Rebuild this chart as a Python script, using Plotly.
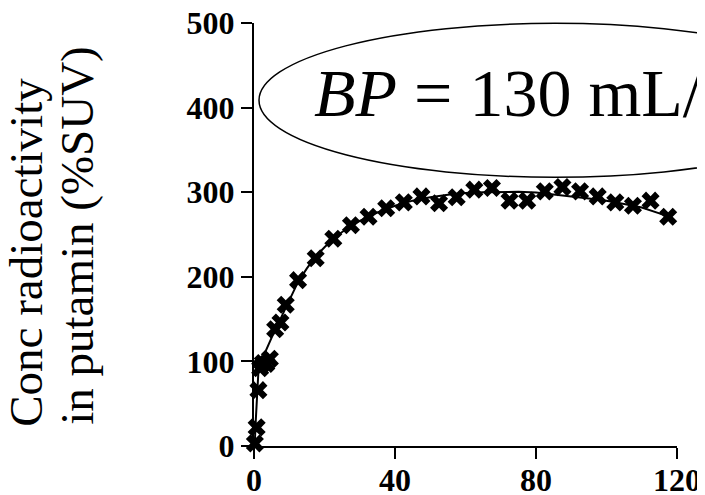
import plotly.graph_objects as go

# Measured data (time in min, concentration in %SUV)
time_min = [0.25, 0.75, 1.25, 1.75, 2.5, 3.5, 4.5, 6.0, 7.5, 9.0, 12.5, 17.5, 22.5,
            27.5, 32.5, 37.5, 42.5, 47.5, 52.5, 57.5, 62.5, 67.5, 72.5, 77.5,
            82.5, 87.5, 92.5, 97.5, 102.5, 107.5, 112.5, 117.5]
conc_suv = [3, 22, 66, 92, 98, 97, 103, 138, 146, 167, 196, 222, 245,
            261, 271, 281, 288, 295, 287, 294, 303, 305, 290, 290,
            301, 306, 301, 295, 288, 284, 290, 271]

# Fitted curve
fit_time = [0, 0.25, 0.5, 0.75, 1.0, 1.25, 1.5, 2, 3, 4, 5, 6, 7.5, 9, 10.5, 12.5,
            15, 17.5, 20, 22.5, 25, 27.5, 30, 35, 40, 45, 50, 55, 60, 65, 70, 75,
            80, 85, 90, 95, 100, 105, 110, 115, 117.5]
fit_conc = [0, 6, 30, 55, 75, 88, 95, 100, 109, 118, 128, 137, 150, 164, 177, 194,
            210, 224, 235, 245, 253, 260, 266, 276, 284, 290, 294, 297, 299, 300, 300.5, 300.5,
            299.5, 297.5, 295, 292.5, 290, 286, 282, 275, 271]

x_ticks = [0, 40, 80, 120]
y_ticks = [0, 100, 200, 300, 400, 500]
y_title_lines = ["Conc radioactivity", "in putamin (%SUV)"]
bp_label = "<i>BP</i> = 130 mL/cm<sup>3</sup>"

FONT = "Liberation Serif, Times New Roman, serif"

fig = go.Figure()
fig.add_trace(go.Scatter(x=fit_time, y=fit_conc, mode="lines",
                         line=dict(color="black", width=2), cliponaxis=False,
                         showlegend=False, hoverinfo="skip"))
fig.add_trace(go.Scatter(x=time_min, y=conc_suv, mode="markers",
                         marker=dict(symbol="x", size=16, color="black"),
                         cliponaxis=False, showlegend=False))

# page has an 8px body margin: work in page pixels, convert to figure pixels
OFF = 8
W, H = 705 - OFF, 495 - OFF
PLOT_L, PLOT_R, PLOT_T, PLOT_B = 254, 677, 22.7, 445.7   # page pixels
L = PLOT_L - OFF
T = PLOT_T - OFF
pw = PLOT_R - PLOT_L
ph = PLOT_B - PLOT_T
R = W - L - pw
B = H - T - ph

def px2paper_x(px):
    return (px - PLOT_L) / pw

def py2paper_y(py):
    return (PLOT_B - py) / ph

# ellipse around BP label
fig.add_shape(type="circle", xref="paper", yref="paper",
              x0=px2paper_x(259), x1=px2paper_x(851),
              y0=py2paper_y(177), y1=py2paper_y(23),
              line=dict(color="black", width=1.5), layer="above")

fig.add_annotation(text=bp_label, xref="paper", yref="paper",
                   x=px2paper_x(312), y=py2paper_y(88), xanchor="left", yanchor="middle",
                   showarrow=False, font=dict(family=FONT, size=68, color="black"))

# y title lines (left-aligned, rotated)
fig.add_annotation(text=y_title_lines[0], xref="paper", yref="paper",
                   x=px2paper_x(26), y=py2paper_y(429), xanchor="center", yanchor="bottom",
                   textangle=-90, showarrow=False,
                   font=dict(family=FONT, size=47, color="black"))
fig.add_annotation(text=y_title_lines[1], xref="paper", yref="paper",
                   x=px2paper_x(77), y=py2paper_y(427), xanchor="center", yanchor="bottom",
                   textangle=-90, showarrow=False,
                   font=dict(family=FONT, size=47, color="black"))

axis_common = dict(showgrid=False, zeroline=False, showline=True, linecolor="black",
                   linewidth=2, ticks="outside", ticklen=11, tickwidth=2,
                   tickcolor="black", automargin=False, ticklabeloverflow="allow",
                   tickfont=dict(family=FONT, size=32, color="black", weight="bold"))

fig.update_xaxes(range=[0, 120], tickvals=x_ticks, ticktext=[str(v) for v in x_ticks],
                 ticklabelstandoff=-6, **axis_common)
fig.update_yaxes(range=[0, 500], tickvals=y_ticks, ticktext=[str(v) for v in y_ticks],
                 **axis_common)

fig.update_layout(width=W, height=H, margin=dict(l=L, r=R, t=T, b=B, pad=0, autoexpand=False),
                  plot_bgcolor="white", paper_bgcolor="white", showlegend=False)

fig.write_html("out.html")
